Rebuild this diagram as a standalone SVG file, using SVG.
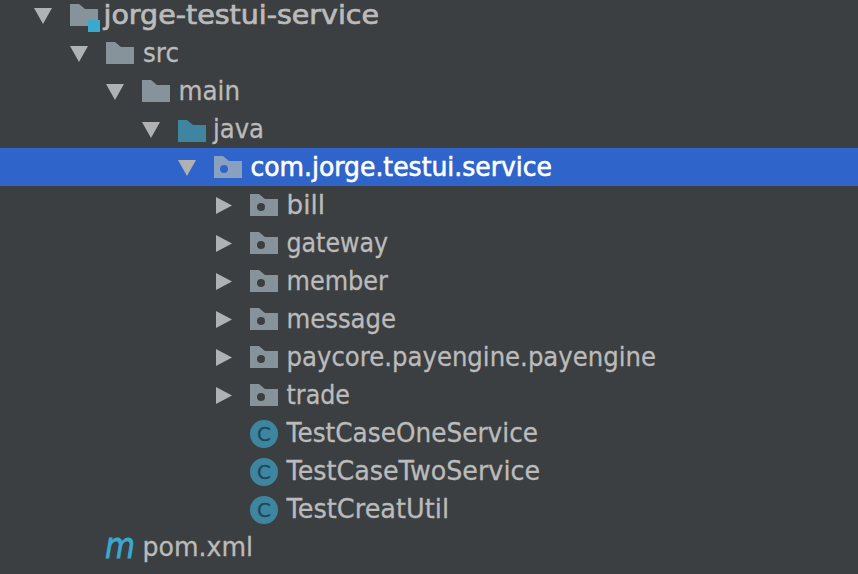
<svg xmlns="http://www.w3.org/2000/svg" width="858" height="574" viewBox="0 0 858 574">
<style>
text{font-family:"DejaVu Sans","Liberation Sans",sans-serif;font-size:26px;fill:#bbbbbb;stroke:#bbbbbb;stroke-width:.3px}
.b{stroke-width:.7px}
.sel{fill:#ffffff;stroke:#ffffff;stroke-width:.6px}
.tri{fill:#afb1b3}
.f{fill:#87939a}
.j{fill:#3e86a0}
.d{fill:#3c3f41}
.c{fill:#3e86a0}
.cl{font-size:20px;fill:#1f4658;stroke:#1f4658;text-anchor:middle}
.m{font-size:36px;font-style:italic;fill:#3aa9d0;stroke:#3aa9d0;stroke-width:.8px}
</style>
<defs>
<path id="folder" d="M0 0H9L15 5H28V22H0Z"/>
<path id="down" d="M0 0H18L9 16Z" class="tri"/>
<path id="right" d="M0 0L16 8.5L0 17Z" class="tri"/>
</defs>
<rect width="858" height="574" fill="#3c3f41"/>
<rect id="selection" x="0" y="148" width="858" height="38" fill="#2f65ca"/>
<g id="node-root"><use href="#down" x="34" y="8"/><use href="#folder" x="70" y="4" class="f"/><rect x="88" y="20" width="12" height="12" fill="#3aa9d0"/><text class="b" x="103.500" y="24" textLength="275.500" lengthAdjust="spacingAndGlyphs">jorge-testui-service</text></g>
<g id="node-src"><use href="#down" x="70" y="46"/><use href="#folder" x="106" y="42" class="f"/><text x="143" y="62" textLength="36" lengthAdjust="spacingAndGlyphs">src</text></g>
<g id="node-main"><use href="#down" x="106" y="84"/><use href="#folder" x="142" y="80" class="f"/><text x="178.500" y="100" textLength="61.500" lengthAdjust="spacingAndGlyphs">main</text></g>
<g id="node-java"><use href="#down" x="142" y="122"/><use href="#folder" x="178" y="120" class="j"/><text x="213" y="138" textLength="51" lengthAdjust="spacingAndGlyphs">java</text></g>
<g id="node-com"><use href="#down" x="178" y="160"/><use href="#folder" x="214" y="156" fill="#8aa0bf"/><circle cx="224" cy="169" r="4" fill="#2f65ca"/><text class="sel" x="250.500" y="176" textLength="301.500" lengthAdjust="spacingAndGlyphs">com.jorge.testui.service</text></g>
<g id="node-bill"><use href="#right" x="216" y="197"/><use href="#folder" x="250" y="194" class="f"/><circle class="d" cx="261" cy="207" r="4"/><text x="286.500" y="214" textLength="38.500" lengthAdjust="spacingAndGlyphs">bill</text></g>
<g id="node-gateway"><use href="#right" x="216" y="235"/><use href="#folder" x="250" y="232" class="f"/><circle class="d" cx="261" cy="245" r="4"/><text x="286.500" y="252" textLength="101.500" lengthAdjust="spacingAndGlyphs">gateway</text></g>
<g id="node-member"><use href="#right" x="216" y="273"/><use href="#folder" x="250" y="270" class="f"/><circle class="d" cx="261" cy="283" r="4"/><text x="286.500" y="290" textLength="101.500" lengthAdjust="spacingAndGlyphs">member</text></g>
<g id="node-message"><use href="#right" x="216" y="311"/><use href="#folder" x="250" y="308" class="f"/><circle class="d" cx="261" cy="321" r="4"/><text x="286.500" y="328" textLength="109.500" lengthAdjust="spacingAndGlyphs">message</text></g>
<g id="node-paycore"><use href="#right" x="216" y="349"/><use href="#folder" x="250" y="346" class="f"/><circle class="d" cx="261" cy="359" r="4"/><text x="286.500" y="366" textLength="369.500" lengthAdjust="spacingAndGlyphs">paycore.payengine.payengine</text></g>
<g id="node-trade"><use href="#right" x="216" y="387"/><use href="#folder" x="250" y="384" class="f"/><circle class="d" cx="261" cy="397" r="4"/><text x="286.500" y="404" textLength="63.500" lengthAdjust="spacingAndGlyphs">trade</text></g>
<g id="node-one"><circle class="c" cx="264" cy="434" r="14"/><text class="cl" x="264" y="441">C</text><text x="286.500" y="442" textLength="251.500" lengthAdjust="spacingAndGlyphs">TestCaseOneService</text></g>
<g id="node-two"><circle class="c" cx="264" cy="472" r="14"/><text class="cl" x="264" y="479">C</text><text x="286.500" y="480" textLength="253.500" lengthAdjust="spacingAndGlyphs">TestCaseTwoService</text></g>
<g id="node-creat"><circle class="c" cx="264" cy="510" r="14"/><text class="cl" x="264" y="517">C</text><text x="286.500" y="518" textLength="162.500" lengthAdjust="spacingAndGlyphs">TestCreatUtil</text></g>
<g id="node-pom"><text class="m" x="105" y="558" textLength="30" lengthAdjust="spacingAndGlyphs">m</text><text x="142.500" y="556" textLength="110.500" lengthAdjust="spacingAndGlyphs">pom.xml</text></g>
<g id="connectors"></g>
</svg>
